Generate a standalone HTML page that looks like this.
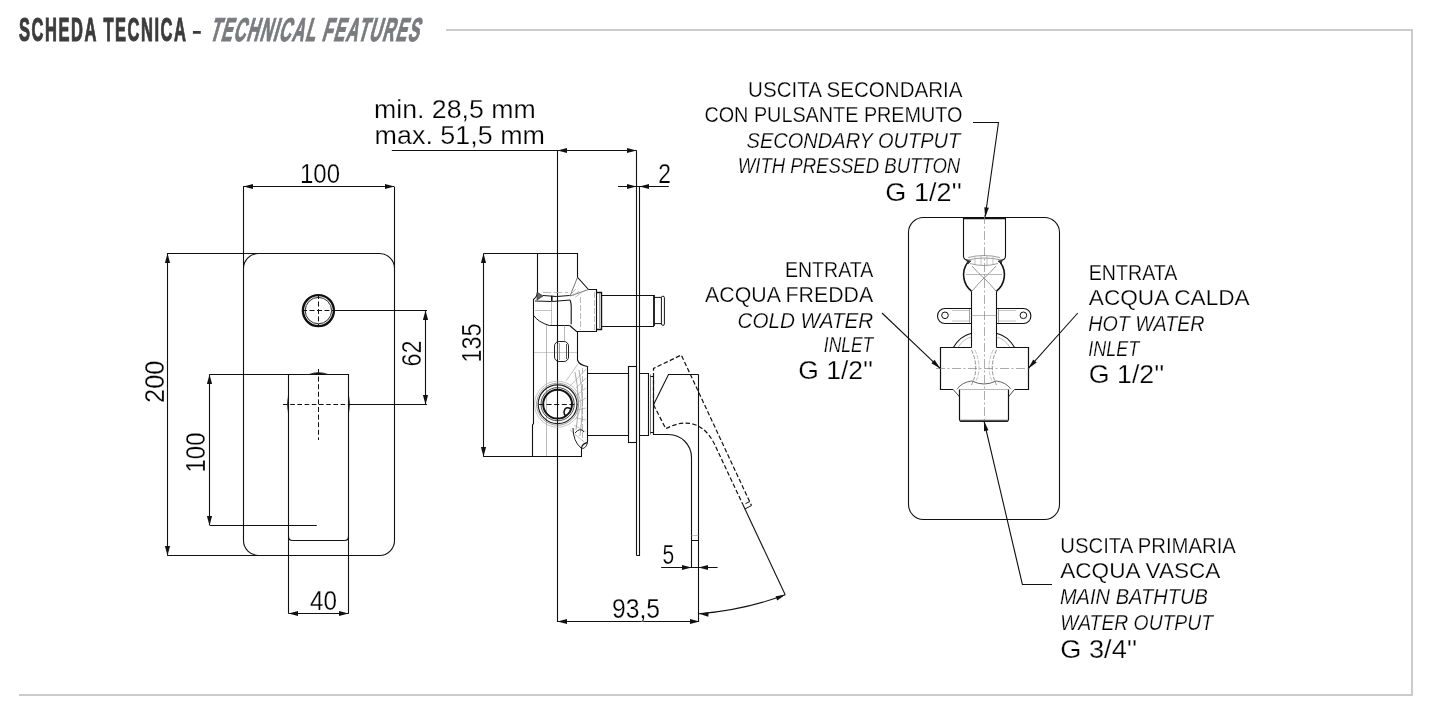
<!DOCTYPE html>
<html><head><meta charset="utf-8"><style>
html,body{margin:0;padding:0;background:#fff;width:1442px;height:722px;overflow:hidden}
svg{display:block;will-change:transform}
text{font-family:"Liberation Sans",sans-serif}
.thin{stroke:#fff;stroke-width:0.25px;paint-order:normal}
</style></head><body>
<svg width="1442" height="722" viewBox="0 0 1442 722">
<line x1="446" y1="30" x2="1413" y2="30" stroke="#cbcbcb" stroke-width="2" />
<line x1="1412" y1="29" x2="1412" y2="696" stroke="#cbcbcb" stroke-width="2" />
<line x1="19" y1="695" x2="1413" y2="695" stroke="#cbcbcb" stroke-width="2" />
<path d="M258.5,253.5 H379.5 A15,15 0 0 1 394.5,268.5 V540.5 A15,15 0 0 1 379.5,555.5 H258.5 A15,15 0 0 1 243.5,540.5 V268.5 A15,15 0 0 1 258.5,253.5 Z" stroke="#111" stroke-width="1.1" fill="none" />
<line x1="243.5" y1="186.6" x2="243.5" y2="268" stroke="#111" stroke-width="1.1" />
<line x1="394.5" y1="186.6" x2="394.5" y2="268" stroke="#111" stroke-width="1.1" />
<line x1="243" y1="186.5" x2="394" y2="186.5" stroke="#111" stroke-width="1.1" />
<path d="M243.50,186.50 L253.00,183.90 L253.00,189.10 Z" fill="#111"/>
<path d="M394.50,186.50 L385.00,189.10 L385.00,183.90 Z" fill="#111"/>
<text x="320" y="183" font-size="27" text-anchor="middle"  textLength="40" lengthAdjust="spacingAndGlyphs" fill="#000" class="thin" >100</text>
<line x1="167.3" y1="253.5" x2="258" y2="253.5" stroke="#111" stroke-width="1.1" />
<line x1="167.3" y1="555.5" x2="258" y2="555.5" stroke="#111" stroke-width="1.1" />
<line x1="167.5" y1="253" x2="167.5" y2="555.5" stroke="#111" stroke-width="1.1" />
<path d="M167.50,253.50 L170.10,263.00 L164.90,263.00 Z" fill="#111"/>
<path d="M167.50,555.50 L164.90,546.00 L170.10,546.00 Z" fill="#111"/>
<g transform="translate(163.7,381.8) rotate(-90)"><text x="0" y="0" font-size="27" text-anchor="middle" textLength="42.4" lengthAdjust="spacingAndGlyphs" fill="#000" class="thin">200</text></g>
<circle cx="318.4" cy="310.6" r="15.5" fill="none" stroke="#111" stroke-width="2.4"/>
<circle cx="318.4" cy="310.6" r="13.2" fill="none" stroke="#111" stroke-width="0.9"/>
<line x1="318.5" y1="294" x2="318.5" y2="327" stroke="#111" stroke-width="1" stroke-dasharray="5,2.5"/>
<line x1="302" y1="310.5" x2="335" y2="310.5" stroke="#111" stroke-width="1" stroke-dasharray="5,2.5"/>
<line x1="335" y1="310.5" x2="427" y2="310.5" stroke="#111" stroke-width="1.1" />
<line x1="349" y1="404.5" x2="427" y2="404.5" stroke="#111" stroke-width="1.1" />
<line x1="425.5" y1="310.6" x2="425.5" y2="404.3" stroke="#111" stroke-width="1.1" />
<path d="M425.50,310.50 L428.10,320.00 L422.90,320.00 Z" fill="#111"/>
<path d="M425.50,404.50 L422.90,395.00 L428.10,395.00 Z" fill="#111"/>
<g transform="translate(420.7,353.4) rotate(-90)"><text x="0" y="0" font-size="27" text-anchor="middle" textLength="26" lengthAdjust="spacingAndGlyphs" fill="#000" class="thin">62</text></g>
<path d="M288.5,374.5 H348.5 V536.5 Q348.5,540.5 344.5,540.5 H292.5 Q288.5,540.5 288.5,536.5 Z" stroke="#111" stroke-width="1.1" fill="none" />
<line x1="288.5" y1="536" x2="288.5" y2="613.4" stroke="#111" stroke-width="1.1" />
<line x1="348.5" y1="536" x2="348.5" y2="613.4" stroke="#111" stroke-width="1.1" />
<line x1="209.7" y1="374.5" x2="288.4" y2="374.5" stroke="#111" stroke-width="1.1" />
<line x1="209.7" y1="525.5" x2="316.8" y2="525.5" stroke="#111" stroke-width="1.1" />
<line x1="209.5" y1="374.2" x2="209.5" y2="525.2" stroke="#111" stroke-width="1.1" />
<path d="M209.50,374.50 L212.10,384.00 L206.90,384.00 Z" fill="#111"/>
<path d="M209.50,525.50 L206.90,516.00 L212.10,516.00 Z" fill="#111"/>
<g transform="translate(205.2,452.5) rotate(-90)"><text x="0" y="0" font-size="27" text-anchor="middle" textLength="40" lengthAdjust="spacingAndGlyphs" fill="#000" class="thin">100</text></g>
<line x1="318.5" y1="369" x2="318.5" y2="440" stroke="#111" stroke-width="1" stroke-dasharray="5,2.6"/>
<line x1="283" y1="404.5" x2="349" y2="404.5" stroke="#111" stroke-width="1" stroke-dasharray="4.6,2.6"/>
<path d="M309,374.5 Q318.5,370.8 328,374.5 Z" stroke="#111" stroke-width="0.8" fill="#111" />
<path d="M288.5,395 Q286.7,404.5 288.5,413.5 Z" stroke="#111" stroke-width="0.8" fill="#111" />
<path d="M348.5,395 Q350.3,404.5 348.5,413.5 Z" stroke="#111" stroke-width="0.8" fill="#111" />
<line x1="288.4" y1="613.5" x2="348.9" y2="613.5" stroke="#111" stroke-width="1.1" />
<path d="M288.50,613.50 L298.00,610.90 L298.00,616.10 Z" fill="#111"/>
<path d="M348.50,613.50 L339.00,616.10 L339.00,610.90 Z" fill="#111"/>
<text x="323.5" y="609.8" font-size="27" text-anchor="middle"  textLength="27" lengthAdjust="spacingAndGlyphs" fill="#000" class="thin" >40</text>
<text x="374" y="118.2" font-size="25.5" text-anchor="start"  textLength="161.7" lengthAdjust="spacingAndGlyphs" fill="#000" class="thin" >min. 28,5 mm</text>
<text x="374.6" y="143.7" font-size="25.5" text-anchor="start"  textLength="170.4" lengthAdjust="spacingAndGlyphs" fill="#000" class="thin" >max. 51,5 mm</text>
<line x1="391.8" y1="150.5" x2="636.4" y2="150.5" stroke="#111" stroke-width="1.1" />
<path d="M557.50,150.50 L567.00,147.90 L567.00,153.10 Z" fill="#111"/>
<path d="M636.50,150.50 L627.00,153.10 L627.00,147.90 Z" fill="#111"/>
<line x1="557.5" y1="150.2" x2="557.5" y2="622" stroke="#111" stroke-width="1.1" />
<line x1="636.5" y1="150.2" x2="636.5" y2="555.5" stroke="#111" stroke-width="1.1" />
<path d="M639.5,186.5 V555.5 H636.5" stroke="#111" stroke-width="1.1" fill="none" />
<line x1="618" y1="186.5" x2="668.8" y2="186.5" stroke="#111" stroke-width="1.1" />
<path d="M636.50,186.50 L627.00,189.10 L627.00,183.90 Z" fill="#111"/>
<path d="M639.50,186.50 L649.00,183.90 L649.00,189.10 Z" fill="#111"/>
<text x="664.6" y="183" font-size="27" text-anchor="middle"  textLength="12.7" lengthAdjust="spacingAndGlyphs" fill="#000" class="thin" >2</text>
<line x1="483.5" y1="253.5" x2="578" y2="253.5" stroke="#111" stroke-width="1.1" />
<line x1="483.5" y1="456.5" x2="582" y2="456.5" stroke="#111" stroke-width="1.1" />
<line x1="483.5" y1="253.4" x2="483.5" y2="456.8" stroke="#111" stroke-width="1.1" />
<path d="M483.50,253.50 L486.10,263.00 L480.90,263.00 Z" fill="#111"/>
<path d="M483.50,456.50 L480.90,447.00 L486.10,447.00 Z" fill="#111"/>
<g transform="translate(480.7,343) rotate(-90)"><text x="0" y="0" font-size="27" text-anchor="middle" textLength="39" lengthAdjust="spacingAndGlyphs" fill="#000" class="thin">135</text></g>
<line x1="557.1" y1="621.5" x2="699" y2="621.5" stroke="#111" stroke-width="1.1" />
<path d="M557.50,621.50 L567.00,618.90 L567.00,624.10 Z" fill="#111"/>
<path d="M699.50,621.50 L690.00,624.10 L690.00,618.90 Z" fill="#111"/>
<text x="636" y="618.3" font-size="27" text-anchor="middle"  textLength="48" lengthAdjust="spacingAndGlyphs" fill="#000" class="thin" >93,5</text>
<line x1="698.5" y1="540.5" x2="698.5" y2="622" stroke="#111" stroke-width="1.1" />
<line x1="661.2" y1="567.5" x2="717.6" y2="567.5" stroke="#111" stroke-width="1.1" />
<path d="M691.50,567.50 L682.00,570.10 L682.00,564.90 Z" fill="#111"/>
<path d="M698.50,567.50 L708.00,564.90 L708.00,570.10 Z" fill="#111"/>
<text x="668.4" y="564.2" font-size="27" text-anchor="middle"  textLength="11.7" lengthAdjust="spacingAndGlyphs" fill="#000" class="thin" >5</text>
<line x1="691.5" y1="540.5" x2="691.5" y2="567.4" stroke="#111" stroke-width="1.1" />
<path d="M537.5,253.5 H577.5 V277.3 L588.5,289.5" stroke="#111" stroke-width="1.1" fill="none" />
<path d="M537.5,253.5 V292.3 Q537,297 533.5,299.5 V423.6 L532.5,425 V456.5 H581.5 V448 Q582,444 587.5,442.4" stroke="#111" stroke-width="1.1" fill="none" />
<path d="M577.5,331.6 V360 Q579,365 587.5,366.5 V442.4" stroke="#111" stroke-width="1.1" fill="none" />
<path d="M537.2,292.3 L543,296 L537,300 Z" stroke="#333" stroke-width="0.8" fill="#666" />
<path d="M577.5,277.3 L570,296 L588.5,289.5" stroke="#555" stroke-width="0.8" fill="none" />
<path d="M571,294 L576,289 M573,296 L579,291 M575,297.5 L582,292" stroke="#999" stroke-width="0.6" fill="none" />
<path d="M570,300 Q571.5,303 571.2,310 V324.3 M588.5,289.5 H596.5 V331.5 H576.5 L569.7,325.5" stroke="#111" stroke-width="1.1" fill="none" />
<path d="M596.5,292.5 H601.5 V329.5 H596.5" stroke="#111" stroke-width="1.4" fill="none" />
<line x1="599.5" y1="293" x2="599.5" y2="328" stroke="#777" stroke-width="0.7" />
<line x1="580.5" y1="297" x2="580.5" y2="330" stroke="#999" stroke-width="0.7" stroke-dasharray="6,2"/>
<line x1="594.5" y1="292" x2="594.5" y2="330" stroke="#999" stroke-width="0.6" stroke-dasharray="6,2"/>
<path d="M543,295.5 Q557,297.5 569.6,295.5" stroke="#111" stroke-width="1.0" fill="none" />
<path d="M535,301 Q552,302.5 570,300" stroke="#111" stroke-width="1.0" fill="none" />
<line x1="543" y1="292.5" x2="568" y2="292.5" stroke="#aaa" stroke-width="0.8" stroke-dasharray="8,3"/>
<line x1="551.8" y1="295.8" x2="551.8" y2="301" stroke="#111" stroke-width="1.6" />
<path d="M533.8,315.6 Q538,322 549.3,325.5 H569.7" stroke="#111" stroke-width="1.0" fill="none" />
<line x1="551.5" y1="301" x2="551.5" y2="325" stroke="#999" stroke-width="0.6" />
<line x1="535" y1="310.5" x2="552" y2="310.5" stroke="#999" stroke-width="0.6" />
<line x1="546.5" y1="325.3" x2="546.5" y2="456" stroke="#999" stroke-width="0.7" />
<line x1="564.5" y1="325.3" x2="564.5" y2="341" stroke="#999" stroke-width="0.7" />
<line x1="534" y1="352.5" x2="577" y2="352.5" stroke="#aaa" stroke-width="0.6" />
<rect x="554.5" y="341.5" width="14" height="20" rx="4.5" fill="none" stroke="#222" stroke-width="1.0"/>
<line x1="557.5" y1="344" x2="557.5" y2="359" stroke="#444" stroke-width="0.9" />
<line x1="559.5" y1="343" x2="559.5" y2="360" stroke="#777" stroke-width="0.7" />
<line x1="566.5" y1="344" x2="566.5" y2="359" stroke="#444" stroke-width="0.9" />
<circle cx="557.6" cy="404.2" r="23" fill="none" stroke="#aaa" stroke-width="0.7"/>
<circle cx="557.6" cy="404.2" r="21" fill="none" stroke="#888" stroke-width="0.8"/>
<circle cx="557.6" cy="404.2" r="19.4" fill="none" stroke="#222" stroke-width="1.2"/>
<circle cx="557.6" cy="404.2" r="16.6" fill="none" stroke="#333" stroke-width="0.9"/>
<circle cx="557.6" cy="404.2" r="14.4" fill="none" stroke="#111" stroke-width="2.0"/>
<path d="M571.1,409.1 Q565,405.5 564,412 Q564,415 565.9,416" stroke="#111" stroke-width="1.6" fill="none" />
<line x1="539" y1="404.5" x2="578" y2="404.5" stroke="#111" stroke-width="1" stroke-dasharray="5,2.6"/>
<path d="M566,381 L578,364 M570,386 L586,369 M576,388 L586,378 M577,395 L586,388 M578,402 L586,398 M577,410 L586,408 M576,418 L586,420 M574,425 L586,432 M570,430 L584,442" stroke="#999" stroke-width="0.6" fill="none" />
<path d="M575,372 Q581,400 576,430 M579,370 Q585,400 580,436" stroke="#888" stroke-width="0.7" fill="none" />
<line x1="582.5" y1="368" x2="582.5" y2="441" stroke="#999" stroke-width="0.7" stroke-dasharray="6,2"/>
<path d="M573,428 Q573,441 581,448 Q585,450 587.5,443 M575,433 Q580,427 584,432" stroke="#222" stroke-width="1.0" fill="none" />
<path d="M587.5,373.5 H628.5 V435.5 H587.5" stroke="#111" stroke-width="1.1" fill="none" />
<rect x="628.5" y="366.5" width="8" height="76" fill="none" stroke="#111" stroke-width="1.1"/>
<path d="M639.5,373.5 H648.5 V435.5 H639.5" stroke="#111" stroke-width="1.1" fill="none" />
<line x1="650.5" y1="374.5" x2="650.5" y2="434.5" stroke="#555" stroke-width="0.8" />
<path d="M650.5,376.5 H653.5 V432.5 H650.5" stroke="#111" stroke-width="1.1" fill="none" />
<path d="M601.5,295.5 H654 M601.5,326.5 H654" stroke="#111" stroke-width="1.1" fill="none" />
<line x1="654" y1="295" x2="654" y2="326.1" stroke="#111" stroke-width="1.8" />
<path d="M654,297.4 H661.4 M654,323.6 H661.4" stroke="#111" stroke-width="1.0" fill="none" />
<rect x="661.4" y="296.2" width="3" height="29.1" rx="1.4" fill="none" stroke="#111" stroke-width="1.0"/>
<path d="M653.5,404.8 L668.5,374.5 H698.5" stroke="#111" stroke-width="1.1" fill="none" />
<path d="M653.5,404.8 V434.5 H668.5 A23,23 0 0 1 691.5,457.5 V540.5 H698.5 V374.5" stroke="#111" stroke-width="1.1" fill="none" />
<line x1="691.5" y1="535.5" x2="698.4" y2="535.5" stroke="#aaa" stroke-width="0.7" />
<path d="M653.5,404.8 V368.5 L681.3,355 L751.5,505.6" stroke="#111" stroke-width="1.2" fill="none" stroke-dasharray="4.5,2.3"/>
<path d="M653.5,404.8 L665.8,428.7 C678,422 700,416 714.2,443.5 L742.9,504.6" stroke="#111" stroke-width="1.2" fill="none" stroke-dasharray="4.5,2.3"/>
<path d="M744.8,509 L751.5,505.6 M745.5,503.6 L750,501.5" stroke="#111" stroke-width="1.0" fill="none" />
<line x1="742.9" y1="504.6" x2="785.2" y2="594.8" stroke="#111" stroke-width="1.1" />
<path d="M699,613.8 Q745,610 785.2,594.8" stroke="#111" stroke-width="1.1" fill="none" />
<path d="M699.00,613.80 L708.63,612.27 L708.32,616.66 Z" fill="#111"/>
<path d="M785.20,594.80 L777.22,600.40 L775.57,596.32 Z" fill="#111"/>
<g transform="translate(19,41) scale(0.5,1)"><text x="0" y="0" font-size="33" font-weight="bold" fill="#3c3c3c" stroke="#3c3c3c" stroke-width="1.1" textLength="334" lengthAdjust="spacing">SCHEDA TECNICA</text></g>
<rect x="192.9" y="31" width="7.9" height="2.8" fill="#3c3c3c"/>
<g transform="translate(209,41) skewX(-16) scale(0.5,1)"><text x="0" y="0" font-size="33" font-weight="bold" fill="#7a7b7f" stroke="#7a7b7f" stroke-width="1.1" textLength="418" lengthAdjust="spacing">TECHNICAL FEATURES</text></g>
<path d="M923.5,217.5 H1044.5 A15,15 0 0 1 1059.5,232.5 V504.5 A15,15 0 0 1 1044.5,519.5 H923.5 A15,15 0 0 1 908.5,504.5 V232.5 A15,15 0 0 1 923.5,217.5 Z" stroke="#111" stroke-width="1.1" fill="none" />
<path d="M963.5,217.5 V256 Q963.5,259.7 967.5,260 M1001.4,260 Q1005.5,259.7 1005.5,256 V217.5" stroke="#111" stroke-width="1.1" fill="none" />
<path d="M967.5,260 Q984,256 1001.4,260 M968,257.5 Q984,253.5 1000,257.5 M970,263.5 Q984,267.5 998,263.5" stroke="#888" stroke-width="0.8" fill="none" />
<path d="M975,257 V265 M981,256 V266 M987,256 V266 M993,257 V265" stroke="#999" stroke-width="0.6" fill="none" />
<path d="M966.5,260 L971,261 L968,264 Z M1002.4,260 L998,261 L1001,264 Z" stroke="#222" stroke-width="0.6" fill="#333" />
<line x1="963.1" y1="218.3" x2="1005.8" y2="218.3" stroke="#111" stroke-width="2.0" />
<path d="M967.5,262.6 A21,21 0 0 0 971.5,291.2 M1000.5,262.6 A21,21 0 0 1 996.5,291.2" stroke="#111" stroke-width="1.6" fill="none" />
<path d="M972,266 Q980,275 984,278 Q990,284 996,291 M996,266 Q988,275 984,278 Q978,284 972,291" stroke="#777" stroke-width="0.8" fill="none" />
<line x1="966" y1="274.5" x2="1002" y2="274.5" stroke="#999" stroke-width="0.7" />
<line x1="971.5" y1="291.2" x2="971.5" y2="347.5" stroke="#111" stroke-width="1.1" />
<line x1="996.5" y1="291.2" x2="996.5" y2="347.5" stroke="#111" stroke-width="1.1" />
<line x1="971.5" y1="315.5" x2="996.4" y2="315.5" stroke="#999" stroke-width="0.7" />
<path d="M971.5,308.5 L945,308.5 A7.5,7.5 0 0 0 945,323.5 L971.5,323.5" stroke="#111" stroke-width="1.1" fill="none" />
<path d="M996.5,308.5 L1023.4,308.5 A7.5,7.5 0 0 1 1023.4,323.5 L996.5,323.5" stroke="#111" stroke-width="1.1" fill="none" />
<circle cx="945" cy="315.3" r="3.3" fill="none" stroke="#111" stroke-width="1"/>
<circle cx="1023.4" cy="315.3" r="3.3" fill="none" stroke="#111" stroke-width="1"/>
<path d="M952,310.5 H969 M952,321 H969 M999,310.5 H1016 M999,321 H1016" stroke="#999" stroke-width="0.6" fill="none" />
<line x1="969.5" y1="309" x2="969.5" y2="322.5" stroke="#777" stroke-width="0.7" />
<line x1="998.5" y1="309" x2="998.5" y2="322.5" stroke="#777" stroke-width="0.7" />
<path d="M953.3,347.5 Q960,336 971.5,333.2 M1014.6,347.5 Q1008,336 996.5,333.2" stroke="#111" stroke-width="1.1" fill="none" />
<path d="M958,347.4 Q963,339 971.5,337 M1010,347.4 Q1005,339 996.4,337" stroke="#888" stroke-width="0.6" fill="none" />
<path d="M971.5,347.5 H940.5 V389.5 H953 M1014.6,389.5 H1028.5 V347.5 H996.5" stroke="#111" stroke-width="1.2" fill="none" />
<line x1="959.7" y1="389.5" x2="1008.3" y2="389.5" stroke="#999" stroke-width="0.7" />
<path d="M971.5,350 Q980,368 971.5,385 M996.5,350 Q988,368 996.5,385" stroke="#777" stroke-width="0.8" fill="none" stroke-dasharray="4,1.5"/>
<path d="M975,350 Q983,368 975,383 M993,350 Q985,368 993,383" stroke="#999" stroke-width="0.6" fill="none" stroke-dasharray="4,1.5"/>
<path d="M957,389.3 Q962,382 972,381 Q984,387 996,381 Q1006,382 1011,389.3" stroke="#555" stroke-width="0.9" fill="none" />
<path d="M953,389.3 L959.7,397 M1014.6,389.3 L1008.3,397" stroke="#333" stroke-width="0.9" fill="none" />
<path d="M959.5,389.5 V419 Q959.5,421.5 962,421.5 H1006 Q1008.5,421.5 1008.5,419 V389.5" stroke="#111" stroke-width="1.2" fill="none" />
<line x1="961" y1="420.5" x2="1007" y2="420.5" stroke="#555" stroke-width="1.6" />
<line x1="984.5" y1="215" x2="984.5" y2="425" stroke="#888" stroke-width="0.7" stroke-dasharray="9,2.5,2,2.5"/>
<line x1="936" y1="368.5" x2="1032" y2="368.5" stroke="#888" stroke-width="0.7" stroke-dasharray="9,2.5,2,2.5"/>
<text x="962.5" y="96.6" font-size="22" text-anchor="end"  textLength="214.4" lengthAdjust="spacingAndGlyphs" fill="#000" class="thin" >USCITA SECONDARIA</text>
<text x="962.5" y="121.7" font-size="22" text-anchor="end"  textLength="258.1" lengthAdjust="spacingAndGlyphs" fill="#000" class="thin" >CON PULSANTE PREMUTO</text>
<text x="960.3" y="147.7" font-size="22" text-anchor="end" font-style="italic" textLength="213.7" lengthAdjust="spacingAndGlyphs" fill="#000" class="thin" >SECONDARY OUTPUT</text>
<text x="960.3" y="172.7" font-size="22" text-anchor="end" font-style="italic" textLength="222.6" lengthAdjust="spacingAndGlyphs" fill="#000" class="thin" >WITH PRESSED BUTTON</text>
<text x="961.9" y="201" font-size="26" text-anchor="end"  textLength="76.6" lengthAdjust="spacingAndGlyphs" fill="#000" class="thin" >G 1/2''</text>
<path d="M973,122.5 H998.5 L985.2,216.5" stroke="#111" stroke-width="1.1" fill="none" />
<path d="M985.20,217.40 L984.30,207.18 L988.85,207.81 Z" fill="#111"/>
<text x="873.2" y="276.8" font-size="22" text-anchor="end"  textLength="88.2" lengthAdjust="spacingAndGlyphs" fill="#000" class="thin" >ENTRATA</text>
<text x="873.2" y="302" font-size="22" text-anchor="end"  textLength="168.1" lengthAdjust="spacingAndGlyphs" fill="#000" class="thin" >ACQUA FREDDA</text>
<text x="873.2" y="327.5" font-size="22" text-anchor="end" font-style="italic" textLength="135.7" lengthAdjust="spacingAndGlyphs" fill="#000" class="thin" >COLD WATER</text>
<text x="873.2" y="352.2" font-size="22" text-anchor="end" font-style="italic" textLength="49.4" lengthAdjust="spacingAndGlyphs" fill="#000" class="thin" >INLET</text>
<text x="873.2" y="379" font-size="26" text-anchor="end"  textLength="75" lengthAdjust="spacingAndGlyphs" fill="#000" class="thin" >G 1/2''</text>
<line x1="882" y1="313" x2="940.2" y2="368.4" stroke="#111" stroke-width="1.1" />
<path d="M940.20,368.40 L931.37,363.17 L934.54,359.84 Z" fill="#111"/>
<text x="1088.8" y="280" font-size="22" text-anchor="start"  textLength="88.6" lengthAdjust="spacingAndGlyphs" fill="#000" class="thin" >ENTRATA</text>
<text x="1088.8" y="304.9" font-size="22" text-anchor="start"  textLength="160.9" lengthAdjust="spacingAndGlyphs" fill="#000" class="thin" >ACQUA CALDA</text>
<text x="1088.2" y="330.5" font-size="22" text-anchor="start" font-style="italic" textLength="116.4" lengthAdjust="spacingAndGlyphs" fill="#000" class="thin" >HOT WATER</text>
<text x="1088.2" y="355.7" font-size="22" text-anchor="start" font-style="italic" textLength="51" lengthAdjust="spacingAndGlyphs" fill="#000" class="thin" >INLET</text>
<text x="1088.8" y="382.8" font-size="26" text-anchor="start"  textLength="75.6" lengthAdjust="spacingAndGlyphs" fill="#000" class="thin" >G 1/2''</text>
<line x1="1077.8" y1="313" x2="1028.3" y2="368.4" stroke="#111" stroke-width="1.1" />
<path d="M1028.30,368.40 L1033.25,359.41 L1036.68,362.48 Z" fill="#111"/>
<text x="1060.3" y="552.8" font-size="22" text-anchor="start"  textLength="175.6" lengthAdjust="spacingAndGlyphs" fill="#000" class="thin" >USCITA PRIMARIA</text>
<text x="1060.3" y="577.8" font-size="22" text-anchor="start"  textLength="160" lengthAdjust="spacingAndGlyphs" fill="#000" class="thin" >ACQUA VASCA</text>
<text x="1059.9" y="603.5" font-size="22" text-anchor="start" font-style="italic" textLength="147.9" lengthAdjust="spacingAndGlyphs" fill="#000" class="thin" >MAIN BATHTUB</text>
<text x="1060.3" y="629.5" font-size="22" text-anchor="start" font-style="italic" textLength="152.7" lengthAdjust="spacingAndGlyphs" fill="#000" class="thin" >WATER OUTPUT</text>
<text x="1060.3" y="658.2" font-size="26" text-anchor="start"  textLength="76.9" lengthAdjust="spacingAndGlyphs" fill="#000" class="thin" >G 3/4''</text>
<path d="M1052,584.5 H1022.4 L984,421" stroke="#111" stroke-width="1.1" fill="none" />
<path d="M984.00,421.00 L988.52,430.21 L984.04,431.26 Z" fill="#111"/>
</svg></body></html>
